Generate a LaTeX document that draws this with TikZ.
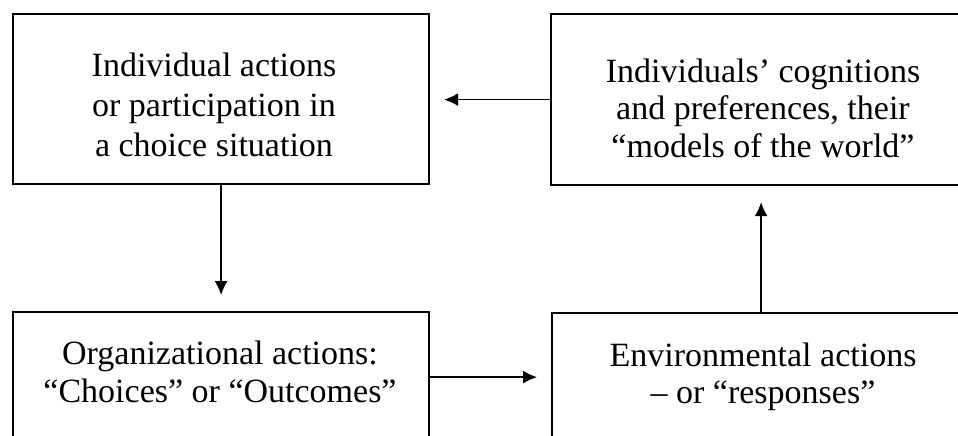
\documentclass[tikz,border=0pt]{standalone}
\usepackage{fontspec}
\setmainfont{Liberation Serif}
\usetikzlibrary{arrows.meta}

\begin{document}
\begin{tikzpicture}[x=1pt,y=-1pt,
  box/.style={draw=black, line width=2.2pt, rectangle, anchor=north west, inner sep=0pt},
  label34/.style={align=center, inner sep=0pt, text=black},
  flow/.style={draw=black, line width=1.4pt, -{Latex[length=14pt,width=13pt]}}]

  \useasboundingbox (0,0) rectangle (958,436);
  \clip (0,0) rectangle (958,436);
  \fill[white] (0,0) rectangle (958,436);

  % the four boxes of the cycle
  \node[box, minimum width=416pt, minimum height=170pt] (TL) at (12,13) {};
  \node[box, minimum width=426pt, minimum height=171pt] (TR) at (550,13) {};
  \node[box, minimum width=416pt, minimum height=130pt] (BL) at (12,311) {};
  \node[box, minimum width=418pt, minimum height=130pt] (BR) at (551,312) {};

  % box texts
  \node[label34, font=\fontsize{34}{40}\selectfont] (tTL) at (214,104.4)
    {Individual actions\\or participation in\\a choice situation};
  \node[label34, font=\fontsize{34}{37.5}\selectfont] (tTR) at (763,107.9)
    {Individuals' cognitions\\and preferences, their\\``models of the world''};
  \node[label34, font=\fontsize{34}{38}\selectfont] (tBL) at (220,371.6)
    {Organizational actions:\\``Choices'' or ``Outcomes''};
  \node[label34, font=\fontsize{34}{37}\selectfont] (tBR) at (763,376.6)
    {Environmental actions\\-- or ``responses''};

  % connectors
  \draw[flow, shorten >=14pt] (TR.west) -- (TR.west -| TL.east);
  \draw[flow, shorten >=16pt] (TL.south) -- (TL.south |- BL.north);
  \draw[flow, shorten >=14pt] (BL.east) -- (BL.east -| BR.west);
  \draw[flow, shorten >=16pt] (BR.north) -- (BR.north |- TR.south);
\end{tikzpicture}
\end{document}
